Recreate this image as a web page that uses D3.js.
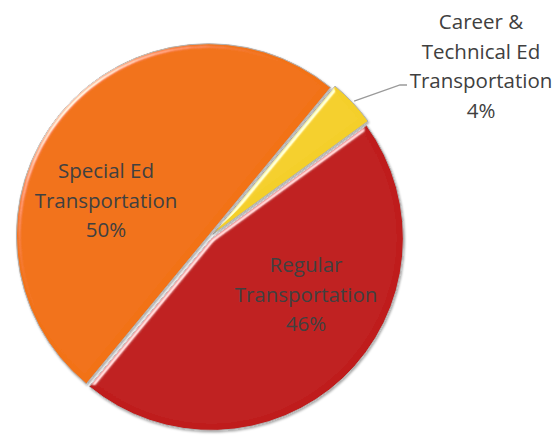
<!DOCTYPE html>
<html lang="en">
<head>
<meta charset="utf-8">
<title>Transportation pie</title>
<script src="https://d3js.org/d3.v7.min.js"></script>
<style>
  body { margin: 0; background: #fff; }
  text { font-family: "Open Sans", sans-serif; fill: #404040; }
</style>
</head>
<body>
<script>
// data
var categories = ["Career & Technical Ed Transportation", "Regular Transportation", "Special Ed Transportation"];
var values = [4, 46, 50];
var labelLines = [
  ["Career &", "Technical Ed", "Transportation"],
  ["Regular", "Transportation"],
  ["Special Ed", "Transportation"]
];
var colors = ["#f4cf2a", "#bf1e1d", "#f27219"];

var width = 556, height = 437;
var cx = 210, cy = 237, radius = 192;
var explode = [4, 2, 2];
// label block centre (x) and first baseline (y)
var labelPos = [[481, 29], [306, 272], [106, 178]];
var lineGap = 29.5;

var svg = d3.select("body").append("svg")
    .attr("width", width)
    .attr("height", height);

var defs = svg.append("defs");

// soft bevel look
var bevel = defs.append("filter").attr("id", "bevel")
    .attr("x", "-10%").attr("y", "-10%").attr("width", "120%").attr("height", "120%");
bevel.append("feGaussianBlur").attr("in", "SourceAlpha").attr("stdDeviation", 2.5).attr("result", "blur");
var spec = bevel.append("feSpecularLighting").attr("in", "blur")
    .attr("surfaceScale", 4).attr("specularConstant", 0.75).attr("specularExponent", 28)
    .attr("lighting-color", "#ffffff").attr("result", "spec");
spec.append("feDistantLight").attr("azimuth", 225).attr("elevation", 18);
bevel.append("feComposite").attr("in", "spec").attr("in2", "SourceAlpha").attr("operator", "in").attr("result", "specOut");
bevel.append("feComposite").attr("in", "SourceGraphic").attr("in2", "specOut")
    .attr("operator", "arithmetic").attr("k1", 0).attr("k2", 1).attr("k3", 1).attr("k4", 0);

var shadow = defs.append("filter").attr("id", "shadow")
    .attr("x", "-10%").attr("y", "-10%").attr("width", "120%").attr("height", "120%");
shadow.append("feDropShadow").attr("dx", 1).attr("dy", 1.5).attr("stdDeviation", 1.2)
    .attr("flood-color", "#000").attr("flood-opacity", 0.35);

var pie = d3.pie()
    .sort(null)
    .startAngle(39.5 * Math.PI / 180)
    .endAngle(39.5 * Math.PI / 180 + 2 * Math.PI);

var arcs = pie(values);

var arc = d3.arc().innerRadius(0).outerRadius(radius);

var g = svg.append("g").attr("transform", "translate(" + cx + "," + cy + ")");

function shift(d, i) {
  var a = (d.startAngle + d.endAngle) / 2;
  return [explode[i] * Math.sin(a), -explode[i] * Math.cos(a)];
}

var slices = g.selectAll("g.slice")
    .data(arcs)
    .enter()
    .append("g")
    .attr("class", "slice")
    .attr("filter", "url(#shadow)")
    .attr("transform", function(d, i) {
      var s = shift(d, i);
      return "translate(" + s[0] + "," + s[1] + ")";
    });

slices.append("path")
    .attr("d", arc)
    .attr("fill", function(d, i) { return colors[i]; })
    .attr("stroke", "#b0b0b0")
    .attr("stroke-width", 1)
    .attr("filter", "url(#bevel)");

// leader line for the small slice
var small = arcs[0];
var sa = (small.startAngle + small.endAngle) / 2;
var r0 = radius + explode[0] + 2;
var p0 = [cx + r0 * Math.sin(sa), cy - r0 * Math.cos(sa)];
svg.append("polyline")
    .attr("points", [p0, [400, 85], [407, 85]].map(function(p) { return p.join(","); }).join(" "))
    .attr("fill", "none")
    .attr("stroke", "#9a9a9a")
    .attr("stroke-width", 1.3);

// labels
arcs.forEach(function(d, i) {
  var lines = labelLines[i].concat([d3.format(".0f")(values[i]) + "%"]);
  var t = svg.append("text")
      .attr("text-anchor", "middle")
      .attr("font-size", "20.5px");
  lines.forEach(function(l, k) {
    t.append("tspan")
        .attr("x", labelPos[i][0])
        .attr("y", labelPos[i][1] + k * lineGap)
        .text(l);
  });
});
</script>
</body>
</html>
